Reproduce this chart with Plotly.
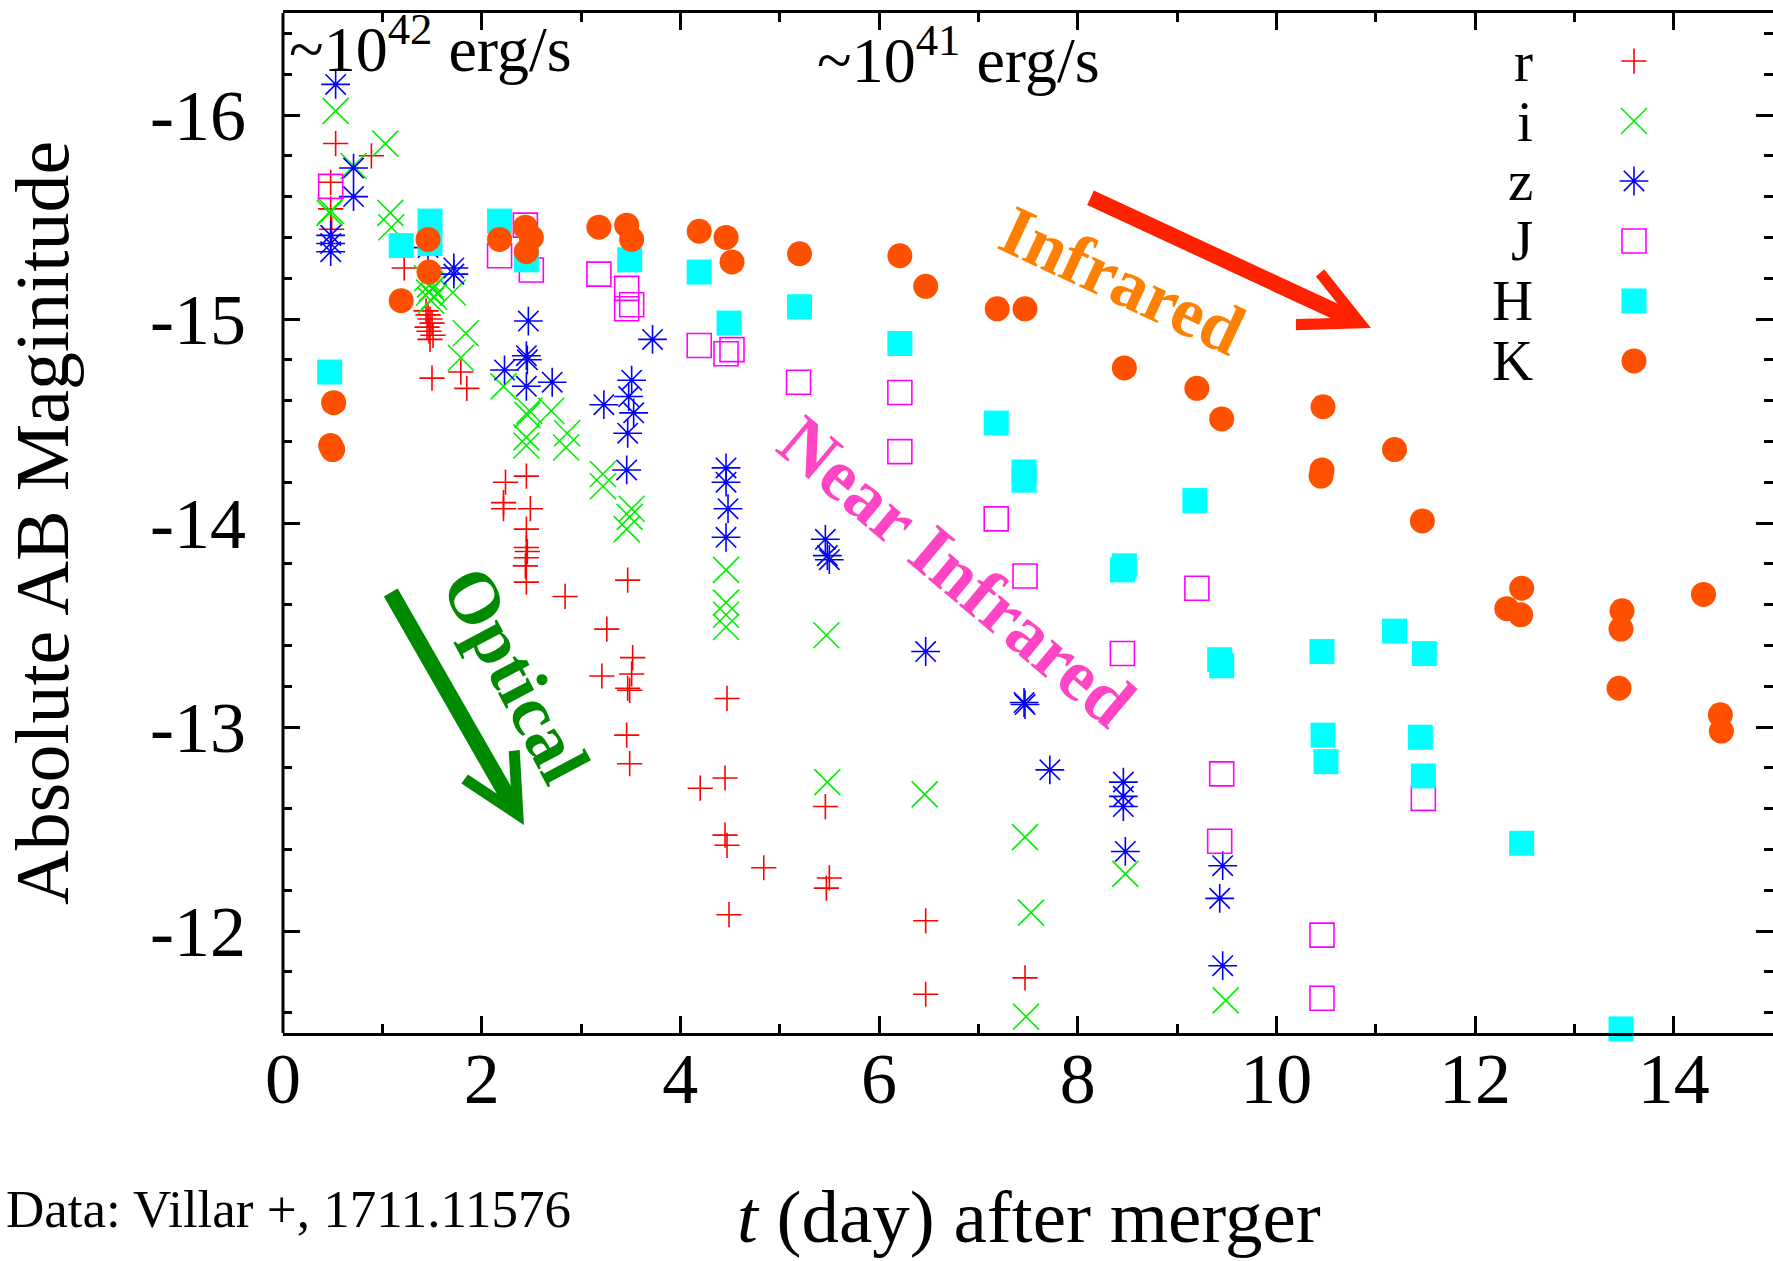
import plotly.graph_objects as go

# ---------------- data ----------------
BANDS = ["r", "i", "z", "J", "H", "K"]
COLORS = ["#FF0000", "#00EE00", "#0000FF", "#FF00FF", "#00FFFF", "#FF5000"]
SYMBOLS = ["cross-thin-open", "x-thin-open", "asterisk-open", "square-open", "square", "circle"]
SIZES = [18, 26, 24, 24, 25, 25]

R_T = [0.53, 0.89, 0.48, 0.48, 0.49, 1.22, 1.44, 1.46, 1.48, 1.50, 1.45, 1.47, 1.51, 1.48,
       1.50, 1.79, 1.85, 2.24, 2.45, 2.22, 2.22, 2.49, 2.45, 2.45, 2.46, 2.45, 2.44, 2.45,
       2.84, 3.47, 3.26, 3.52, 3.21, 3.51, 3.47, 3.49, 3.46, 3.49, 4.47, 4.20, 4.45, 4.45,
       4.47, 4.84, 4.49, 5.46, 5.50, 5.47, 6.47, 6.47, 7.47]
R_MAG = [-15.86, -15.80, -15.67, -15.54, -15.44, -15.25, -15.04, -15.02, -15.00, -14.98,
         -14.96, -14.94, -14.92, -14.90, -14.71, -14.74, -14.66, -14.20, -14.23, -14.10,
         -14.07, -14.07, -13.97, -13.88, -13.86, -13.83, -13.79, -13.71, -13.64, -13.72,
         -13.48, -13.34, -13.25, -13.26, -13.19, -13.18, -12.96, -12.82, -13.14, -12.70,
         -12.75, -12.47, -12.42, -12.31, -12.08, -12.61, -12.26, -12.21, -12.05, -11.69,
         -11.77]

I_T = [0.53, 1.03, 0.71, 0.47, 0.48, 1.08, 1.09, 1.45, 1.48, 1.50, 1.47, 1.52, 1.49, 1.71,
       1.84, 1.79, 2.22, 2.48, 2.46, 2.70, 2.45, 2.45, 2.86, 2.85, 3.22, 3.22, 3.51, 3.49,
       3.46, 4.46, 4.46, 4.46, 4.46, 5.47, 5.48, 6.46, 7.47, 7.53, 7.48, 8.48, 9.49]
I_MAG = [-16.02, -15.86, -15.75, -15.52, -15.53, -15.52, -15.45, -15.20, -15.17, -15.15,
         -15.13, -15.11, -15.09, -15.13, -14.93, -14.81, -14.67, -14.55, -14.53, -14.55,
         -14.42, -14.38, -14.44, -14.37, -14.24, -14.18, -14.07, -14.03, -13.97, -13.77,
         -13.61, -13.55, -13.49, -13.45, -12.73, -12.67, -12.46, -12.09, -11.58, -12.28,
         -11.66]

Z_T = [0.53, 0.71, 0.71, 0.48, 0.48, 0.48, 1.46, 1.72, 1.72, 2.47, 3.72, 2.23, 2.45, 2.46,
       2.71, 2.45, 3.23, 3.51, 3.48, 3.53, 3.47, 3.46, 4.46, 4.46, 4.48, 4.46, 5.46, 5.48,
       5.50, 6.47, 7.46, 7.47, 7.72, 8.46, 8.46, 8.46, 8.48, 9.46, 9.43, 9.46]
Z_MAG = [-16.15, -15.74, -15.60, -15.41, -15.37, -15.33, -15.35, -15.25, -15.22, -14.99,
         -14.90, -14.75, -14.82, -14.80, -14.69, -14.67, -14.58, -14.70, -14.62, -14.54,
         -14.44, -14.26, -14.27, -14.20, -14.07, -13.93, -13.92, -13.84, -13.82, -13.37,
         -13.12, -13.11, -12.79, -12.73, -12.66, -12.61, -12.39, -12.32, -12.16, -11.83]

J_T = [0.48, 2.18, 2.44, 2.50, 3.18, 3.46, 3.46, 3.51, 4.19, 4.46, 4.52, 5.19, 6.21, 6.21,
       7.18, 7.47, 8.45, 9.20, 9.45, 9.43, 10.46, 10.46, 11.48]
J_MAG = [-15.65, -15.31, -15.46, -15.24, -15.22, -15.15, -15.05, -15.07, -14.87, -14.83,
         -14.85, -14.69, -14.64, -14.35, -14.02, -13.74, -13.36, -13.68, -12.77, -12.44,
         -11.98, -11.67, -12.65]

H_T = [0.47, 1.19, 1.48, 1.48, 2.18, 2.45, 3.49, 4.19, 4.49, 5.20, 6.21, 7.18, 7.46, 7.46,
       8.45, 8.47, 9.18, 9.43, 9.45, 10.46, 10.47, 10.50, 11.19, 11.45, 11.48, 11.49,
       12.47, 13.47]
H_MAG = [-14.74, -15.36, -15.48, -15.37, -15.48, -15.29, -15.29, -15.23, -14.98, -15.06,
         -14.88, -14.49, -14.25, -14.21, -13.77, -13.79, -14.11, -13.33, -13.30, -13.37,
         -12.96, -12.83, -13.47, -12.95, -12.76, -13.36, -12.43, -11.52]

K_T = [0.51, 0.48, 0.50, 1.19, 1.46, 1.47, 2.18, 2.44, 2.50, 2.45, 3.18, 3.46, 3.51, 4.19,
       4.46, 4.52, 5.20, 6.21, 6.47, 7.19, 7.47, 8.47, 9.20, 9.45, 10.47, 10.46, 10.45,
       11.19, 11.47, 12.47, 12.32, 12.46, 13.48, 13.47, 13.45, 14.30, 14.47, 14.48]
K_MAG = [-14.59, -14.38, -14.36, -15.09, -15.39, -15.23, -15.39, -15.45, -15.40, -15.33,
         -15.45, -15.46, -15.39, -15.43, -15.40, -15.28, -15.32, -15.31, -15.16, -15.05,
         -15.05, -14.76, -14.66, -14.51, -14.57, -14.26, -14.23, -14.36, -14.01, -13.68,
         -13.58, -13.55, -13.57, -13.48, -13.19, -13.65, -13.06, -12.98]

X_TICKVALS = [0, 2, 4, 6, 8, 10, 12, 14]
X_TICKTEXT = ["0", "2", "4", "6", "8", "10", "12", "14"]
Y_TICKVALS = [-16, -15, -14, -13, -12]
Y_TICKTEXT = ["-16", "-15", "-14", "-13", "-12"]

SERIES_T = [R_T, I_T, Z_T, J_T, H_T, K_T]
SERIES_MAG = [R_MAG, I_MAG, Z_MAG, J_MAG, H_MAG, K_MAG]

FONT = "Liberation Serif"

# ---------------- figure ----------------
fig = go.Figure()

for name, col, sym, size, t, m in zip(BANDS, COLORS, SYMBOLS, SIZES, SERIES_T, SERIES_MAG):
    filled = sym in ("square", "circle")
    fig.add_trace(go.Scatter(
        x=t, y=m, mode="markers", name=name, showlegend=False, cliponaxis=False,
        marker=dict(symbol=sym, size=size, color=col,
                    line=dict(color=col, width=0 if filled else 1.6)),
    ))

# custom key (gnuplot style: label then symbol) on an overlay axis in [0,1]
KEY_MARK_X = 0.9067
KEY_LABEL_X = 0.8403
KEY_TOP = 0.9529
KEY_STEP = 0.0588
for k, (name, col, sym, size) in enumerate(zip(BANDS, COLORS, SYMBOLS, SIZES)):
    filled = sym in ("square", "circle")
    yk = KEY_TOP - k * KEY_STEP
    fig.add_trace(go.Scatter(
        x=[KEY_MARK_X], y=[yk], xaxis="x2", yaxis="y2", mode="markers",
        showlegend=False, cliponaxis=False,
        marker=dict(symbol=sym, size=size, color=col,
                    line=dict(color=col, width=0 if filled else 1.6)),
    ))
    fig.add_annotation(xref="paper", yref="paper", x=KEY_LABEL_X, y=yk,
                       xanchor="right", yanchor="middle", showarrow=False,
                       text=name, font=dict(family=FONT, size=57, color="black"))

axis_common = dict(showgrid=False, zeroline=False, ticks="inside", tickcolor="black",
                   tickwidth=3, ticklen=17, tickfont=dict(family=FONT, size=72, color="black"))

fig.update_layout(
    width=1773, height=1261,
    margin=dict(l=283, r=0, t=13, b=228),
    paper_bgcolor="white", plot_bgcolor="white",
    font=dict(family=FONT, color="black"),
    showlegend=False,
    xaxis=dict(range=[0, 15], tickmode="array", tickvals=X_TICKVALS, ticktext=X_TICKTEXT,
               showline=True, linecolor="black", linewidth=3, mirror="ticks",
               ticklabelstandoff=-19,
               minor=dict(dtick=1, tick0=0, ticks="inside", ticklen=9, tickwidth=3,
                          tickcolor="black", showgrid=False),
               **axis_common),
    yaxis=dict(range=[-11.5, -16.5], tickmode="array", tickvals=Y_TICKVALS, ticktext=Y_TICKTEXT,
               showline=False, mirror="ticks", ticklabelstandoff=36,
               minor=dict(dtick=0.2, tick0=0, ticks="inside", ticklen=9, tickwidth=3,
                          tickcolor="black", showgrid=False),
               **axis_common),
    xaxis2=dict(overlaying="x", range=[0, 1], visible=False, fixedrange=True),
    yaxis2=dict(overlaying="y", range=[0, 1], visible=False, fixedrange=True),
)

# left frame line
fig.add_shape(type="line", xref="paper", yref="paper", x0=0, x1=0, y0=0, y1=1,
              line=dict(color="black", width=3))

# axis titles
fig.add_annotation(xref="paper", yref="paper", x=-0.1617, y=0.500, textangle=-90,
                   xanchor="center", yanchor="middle", showarrow=False,
                   text="Absolute AB Maginitude", font=dict(family=FONT, size=76, color="black"))
fig.add_annotation(xref="paper", yref="paper", x=0.5007, y=-0.1800,
                   xanchor="center", yanchor="middle", showarrow=False,
                   text="<i>t</i> (day) after merger", font=dict(family=FONT, size=75, color="black"))
fig.add_annotation(xref="paper", yref="paper", x=-0.1870, y=-0.1730,
                   xanchor="left", yanchor="middle", showarrow=False,
                   text="Data: Villar +, 1711.11576", font=dict(family=FONT, size=53, color="black"))

# luminosity labels
fig.add_annotation(xref="paper", yref="paper", x=0.003, y=0.9270,
                   xanchor="left", yanchor="bottom", showarrow=False,
                   text="~10<sup>42</sup> erg/s", font=dict(family=FONT, size=64, color="black"))
fig.add_annotation(xref="paper", yref="paper", x=0.3570, y=0.9170,
                   xanchor="left", yanchor="bottom", showarrow=False,
                   text="~10<sup>41</sup> erg/s", font=dict(family=FONT, size=64, color="black"))

# region labels
fig.add_annotation(xref="paper", yref="paper", x=0.5631, y=0.7382, textangle=25,
                   xanchor="center", yanchor="middle", showarrow=False,
                   text="<b>Infrared</b>", font=dict(family=FONT, size=71, color="#FF8000"))
fig.add_annotation(xref="paper", yref="paper", x=0.4523, y=0.452, textangle=40,
                   xanchor="center", yanchor="middle", showarrow=False,
                   text="<b>Near Infrared</b>", font=dict(family=FONT, size=73, color="#FF44C4"))
fig.add_annotation(xref="paper", yref="paper", x=0.1560, y=0.351, textangle=62,
                   xanchor="center", yanchor="middle", showarrow=False,
                   text="<b>Optical</b>", font=dict(family=FONT, size=73, color="#008A00"))

# arrows
fig.add_annotation(xref="paper", yref="paper", x=0.7302, y=0.6912, ax=-282, ay=-131,
                   axref="pixel", ayref="pixel", text="", showarrow=True,
                   arrowhead=5, arrowsize=0.7, arrowwidth=16, arrowcolor="#FF2200")
fig.add_annotation(xref="paper", yref="paper", x=0.1617, y=0.2039, ax=-134, ay=-234,
                   axref="pixel", ayref="pixel", text="", showarrow=True,
                   arrowhead=5, arrowsize=0.7, arrowwidth=16, arrowcolor="#008A00")

fig.write_html("out.html")
